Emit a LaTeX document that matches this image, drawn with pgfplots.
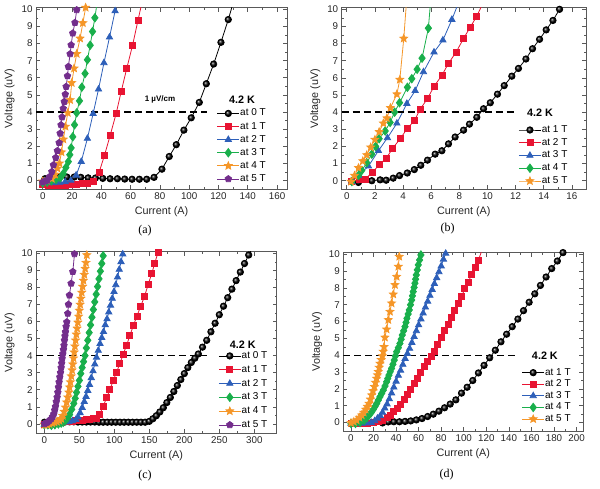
\documentclass[border=0pt]{standalone}
\usepackage{fontspec}
\setmainfont{Liberation Sans}
\newfontfamily\capfont{Liberation Serif}
\usepackage{pgfplots}
\pgfplotsset{compat=1.18}
\usetikzlibrary{plotmarks}

\definecolor{cred}{RGB}{232,20,50}
\definecolor{cblue}{RGB}{45,95,185}
\definecolor{cgreen}{RGB}{25,175,75}
\definecolor{corange}{RGB}{245,150,40}
\definecolor{cpurple}{RGB}{115,45,140}

\pgfdeclareplotmark{fstar}{%
  \pgfpathmoveto{\pgfpointpolar{90}{\pgfplotmarksize}}%
  \pgfpathlineto{\pgfpointpolar{126}{0.45\pgfplotmarksize}}%
  \pgfpathlineto{\pgfpointpolar{162}{\pgfplotmarksize}}%
  \pgfpathlineto{\pgfpointpolar{198}{0.45\pgfplotmarksize}}%
  \pgfpathlineto{\pgfpointpolar{234}{\pgfplotmarksize}}%
  \pgfpathlineto{\pgfpointpolar{270}{0.45\pgfplotmarksize}}%
  \pgfpathlineto{\pgfpointpolar{306}{\pgfplotmarksize}}%
  \pgfpathlineto{\pgfpointpolar{342}{0.45\pgfplotmarksize}}%
  \pgfpathlineto{\pgfpointpolar{18}{\pgfplotmarksize}}%
  \pgfpathlineto{\pgfpointpolar{54}{0.45\pgfplotmarksize}}%
  \pgfpathclose
  \pgfusepathqfillstroke}

\pgfplotsset{
  panel/.style={
    scale only axis, anchor=south west,
    ymin=-0.5, ymax=10.1, ytick={0,1,...,10},
    minor x tick num=1, minor y tick num=1,
    tick align=inside,
    major tick length=4pt, minor tick length=2.2pt,
    axis line style={draw=black!65, line width=0.8pt},
    tick style={black!65, line width=0.6pt},
    tick label style={font=\fontsize{9.8}{11}\selectfont, text=black!85},
    /pgf/number format/assume math mode=true,
    label style={font=\fontsize{10.8}{12}\selectfont, text=black!85},
    xlabel={Current (A)}, ylabel={Voltage (uV)},
    legend cell align=left,
    legend style={draw=none, fill=none, anchor=west, inner sep=0pt,
      font=\fontsize{10}{11}\selectfont,
      nodes={inner sep=0.5pt, text height=7pt, text depth=2pt}},
    legend image code/.code={\draw[mark repeat=2,mark phase=2,##1] plot coordinates {(0pt,0pt) (11pt,0pt) (22pt,0pt)};},
  },
  sk/.style={black, line width=0.8pt, mark=ball, mark options={ball color=black}, mark size=3.2pt},
  sr/.style={cred, line width=0.8pt, mark=square*, mark size=3pt},
  sb/.style={cblue, line width=0.8pt, mark=triangle*, mark size=3.6pt},
  sg/.style={cgreen, line width=0.8pt, mark=diamond*, mark size=4.2pt},
  so/.style={corange, line width=0.8pt, mark=fstar, mark size=4pt},
  sp/.style={cpurple, line width=0.8pt, mark=pentagon*, mark size=3.4pt},
  dl/.style={black, line width=1.5pt, dash pattern=on 7pt off 4pt, forget plot},
}

\begin{document}
\begin{tikzpicture}[x=1pt,y=1pt]
\useasboundingbox (0,0) rectangle (600,489);

% ---------------- (a) ----------------
\begin{axis}[panel, at={(36pt,300pt)}, width=251pt, height=181.4pt,
  xmin=-4.6, xmax=166.8, xtick={0,20,...,160},
  legend style={at={(0.720,0.236)}, row sep=3.1pt}]
\addplot[sk] coordinates {(1.5,0.1)(6.5,0.15)(11.5,0.2)(16.5,0.2)(21.5,0.2)(26,0.18)(31,0.15)(36,0.14)(41,0.12)(46,0.1)(51,0.1)(56,0.08)(61,0.07)(66,0.07)(71,0.07)(76,0.18)(81.4,0.66)(86.4,1.4)(91.2,2.09)(96.4,2.94)(101.4,3.66)(106.9,4.56)(111.7,5.65)(116.7,6.8)(121.7,8.07)(126.7,9.4)(131.5,10.8)};
\addlegendentry{at 0 T}
\addplot[sr] coordinates {(0,-0.25)(3.8,-0.28)(7.6,-0.3)(11.5,-0.3)(15.3,-0.28)(19.2,-0.25)(23,-0.22)(26.9,-0.2)(30.7,-0.15)(34.6,-0.08)(38.5,0.47)(42.2,1.48)(46,2.62)(50.1,3.9)(53.6,5.2)(57.4,6.56)(61.3,7.88)(65,9.34)(68.8,10.8)};
\addlegendentry{at 1 T}
\addplot[sb] coordinates {(0,-0.15)(3.8,-0.15)(7.6,-0.15)(11.5,-0.12)(15.3,-0.08)(19.2,0.0)(22.8,0.3)(26.3,1.1)(30.5,2.45)(34.4,3.9)(38.1,5.33)(41.8,6.87)(45.6,8.37)(49.4,9.9)(53,11.3)};
\addlegendentry{at 2 T}
\addplot[sg] coordinates {(0,-0.15)(3,-0.1)(6,-0.02)(9,0.05)(12,0.15)(14,0.4)(15.8,0.75)(17.5,1.1)(18.5,1.5)(19.4,1.9)(20.5,2.55)(21.7,3.25)(23.2,3.95)(25.1,4.65)(26.7,5.45)(28.9,6.25)(30.5,7.05)(32.4,7.9)(34,8.7)(35.6,9.5)(37.5,10.6)};
\addlegendentry{at 3 T}
\addplot[so] coordinates {(0,-0.05)(2.7,0.0)(6.2,0.1)(8.4,0.35)(10,0.7)(11.4,1.0)(12.8,1.65)(14.1,2.4)(15.5,3.15)(17.1,3.95)(18.7,4.7)(19.8,5.7)(21.4,6.55)(23.2,7.4)(25.5,8.3)(27.4,9.2)(29.3,10.1)(31,10.9)};
\addlegendentry{at 4 T}
\addplot[sp] coordinates {(0,-0.1)(1.5,-0.05)(3,0.0)(4.6,0.21)(6.2,0.51)(7.3,0.9)(8.9,1.33)(10,1.73)(11.2,2.2)(11.9,2.75)(12.5,3.24)(13.2,3.7)(14,4.2)(14.7,4.6)(15.4,5.03)(16,5.48)(16.9,6.1)(17.5,6.65)(18.7,7.39)(19.4,7.91)(20.5,8.6)(22,9.22)(23.2,9.96)(24.5,10.7)};
\addlegendentry{at 5 T}
\addplot[dl] coordinates {(-4.6,4)(112,4)};
\node[font=\bfseries\fontsize{10.8}{12}\selectfont] at (rel axis cs:0.821,0.491) {4.2 K};
\node[font=\bfseries\fontsize{8}{10}\selectfont] at (rel axis cs:0.494,0.494) {1 µV/cm};
\end{axis}

% ---------------- (b) ----------------
\begin{axis}[panel, at={(341.7pt,299.7pt)}, width=244.3pt, height=181.7pt,
  xmin=-0.36, xmax=17.0, xtick={0,2,...,16},
  legend style={at={(0.723,0.186)}, row sep=2.75pt}]
\addplot[sk] coordinates {(0.83,-0.1)(1.78,0.0)(2.37,0.05)(2.8,0.03)(3.3,0.15)(3.75,0.3)(4.3,0.45)(4.8,0.65)(5.26,0.9)(5.74,1.2)(6.28,1.55)(6.76,1.75)(7.23,2.15)(7.7,2.55)(8.3,2.95)(8.72,3.3)(9.24,3.7)(9.72,4.2)(10.2,4.55)(10.71,5.05)(11.19,5.55)(11.73,6.1)(12.2,6.55)(12.73,7.1)(13.2,7.7)(13.7,8.25)(14.17,8.8)(14.65,9.35)(15.12,10.0)(15.6,10.6)};
\addlegendentry{at 1 T}
\addplot[sr] coordinates {(0.36,-0.05)(0.9,0.05)(1.3,0.1)(1.85,0.5)(2.32,0.95)(2.8,1.3)(3.27,1.9)(3.8,2.45)(4.3,3.05)(4.8,3.5)(5.2,4.15)(5.74,4.8)(6.2,5.5)(6.76,6.15)(7.23,6.85)(7.77,7.5)(8.3,8.3)(8.77,8.95)(9.24,9.6)(9.7,10.4)};
\addlegendentry{at 2 T}
\addplot[sb] coordinates {(0.36,-0.05)(0.83,0.3)(1.54,0.85)(2.25,1.75)(2.89,2.5)(3.56,3.35)(4.27,4.5)(4.86,5.25)(5.45,6.35)(6.2,7.5)(6.83,8.2)(7.47,9.4)(7.95,10.4)};
\addlegendentry{at 3 T}
\addplot[sg] coordinates {(0.36,-0.05)(0.83,0.3)(1.07,0.6)(1.42,1.05)(1.78,1.55)(2.05,2.0)(2.3,2.45)(2.73,2.9)(3.08,3.4)(3.4,4.0)(3.75,4.55)(4.31,5.45)(4.62,5.95)(5.0,6.5)(5.35,7.15)(5.8,8.9)(5.95,10.4)};
\addlegendentry{at 4 T}
\addplot[so] coordinates {(0.3,-0.05)(0.55,0.3)(0.83,0.75)(1.14,1.15)(1.42,1.5)(1.7,1.95)(2.0,2.4)(2.3,2.85)(2.6,3.35)(2.85,3.65)(3.1,4.25)(3.56,5.05)(3.77,5.9)(4.05,8.3)(4.25,10.5)};
\addlegendentry{at 5 T}
\addplot[dl] coordinates {(-0.36,4)(12,4)};
\node[font=\bfseries\fontsize{10.8}{12}\selectfont] at (rel axis cs:0.812,0.422) {4.2 K};
\end{axis}

% ---------------- (c) ----------------
\begin{axis}[panel, at={(36pt,55.7pt)}, width=240.7pt, height=181.7pt,
  ymin=-0.55, xmin=-12, xmax=332, xtick={0,50,...,300},
  legend style={at={(0.757,0.236)}, row sep=3.8pt}]
\addplot[sk] coordinates {(0,0.1)(6,0.12)(12,0.13)(18,0.12)(24,0.12)(30,0.12)(36,0.12)(42,0.12)(48,0.11)(54,0.11)(60,0.11)(66,0.11)(72,0.11)(78,0.1)(84,0.1)(90,0.1)(96,0.1)(102,0.1)(108,0.1)(114,0.1)(120,0.1)(126,0.1)(132,0.1)(138,0.1)(144,0.1)(150,0.15)(155,0.3)(160,0.48)(165,0.7)(170,0.95)(175,1.25)(180,1.55)(185,1.9)(190,2.25)(195,2.6)(200,2.95)(205,3.3)(210,3.6)(215,3.85)(220,4.1)(226,4.5)(232,4.9)(238,5.4)(244,5.9)(250,6.4)(256,6.9)(262,7.4)(268,7.9)(274,8.4)(280,8.9)(286,9.4)(292,9.9)(298,10.4)};
\addlegendentry{at 0 T}
\addplot[sr] coordinates {(0,-0.05)(5,0.0)(10,0.03)(15,0.05)(20,0.08)(25,0.1)(30,0.12)(35,0.14)(40,0.16)(45,0.18)(50,0.2)(55,0.22)(60,0.25)(65,0.27)(70,0.3)(75,0.33)(79,0.55)(84,1.04)(89,1.53)(93.5,2.0)(98.3,2.53)(103,3.02)(107.8,3.53)(112.6,4.08)(117.4,4.6)(122,5.16)(127,5.75)(132.3,6.33)(137.7,6.9)(143.3,7.5)(148.5,8.2)(153.3,8.8)(157.6,9.4)(162.3,10.05)(166,10.6)};
\addlegendentry{at 1 T}
\addplot[sb] coordinates {(0,-0.05)(5,-0.05)(10,0)(15,0.02)(20,0.05)(25,0.08)(30,0.1)(35,0.13)(40,0.18)(45,0.25)(48,0.4)(51,0.65)(54,0.95)(57,1.3)(59.5,1.6)(62,1.95)(64.5,2.3)(67,2.7)(69.5,3.1)(72,3.5)(74.5,3.9)(77,4.3)(79.5,4.7)(82,5.05)(84.5,5.4)(87,5.8)(89.5,6.15)(92,6.55)(94.5,6.95)(97,7.35)(99.5,7.75)(102,8.15)(104.5,8.6)(107,9.05)(109.5,9.5)(112,9.95)(114,10.45)};
\addlegendentry{at 2 T}
\addplot[sg] coordinates {(0,-0.05)(5,-0.05)(10,-0.08)(15,-0.05)(20,0.0)(24,0.05)(27,0.1)(30,0.2)(33,0.35)(36,0.55)(39,0.85)(42,1.2)(44,1.5)(46,1.85)(48,2.2)(50,2.55)(52,2.95)(54,3.3)(56,3.65)(58,4.0)(60,4.45)(62,4.9)(64,5.35)(66,5.8)(68,6.25)(70,6.7)(72,7.15)(74,7.6)(76,8.05)(78,8.5)(80,8.95)(82,9.4)(84,9.85)(86,10.4)};
\addlegendentry{at 3 T}
\addplot[so] coordinates {(0,-0.05)(4,-0.05)(7.2,0.0)(11,0.05)(14.4,0.09)(18,0.13)(21.5,0.19)(24,0.3)(26.3,0.48)(28.3,0.72)(30.1,0.97)(31.8,1.27)(33.4,1.56)(34.9,1.85)(36,2.15)(37.2,2.45)(38.4,2.8)(39.6,3.15)(40.6,3.5)(41.6,3.85)(42.6,4.2)(43.6,4.55)(44.6,4.9)(45.6,5.25)(46.7,5.6)(47.8,5.95)(48.9,6.3)(50,6.65)(51.1,7.0)(52.2,7.35)(53.4,7.7)(54.6,8.05)(55.8,8.4)(57,8.75)(58.2,9.1)(59.4,9.45)(60.6,9.9)(61.8,10.45)};
\addlegendentry{at 4 T}
\addplot[sp] coordinates {(0,0.0)(2.5,0.05)(4.8,0.1)(7.2,0.2)(9.6,0.29)(11.6,0.42)(13.4,0.58)(14.7,0.8)(15.8,1.01)(17,1.3)(18.2,1.56)(19.2,1.85)(20.1,2.15)(21,2.45)(22,2.74)(23,3.0)(23.9,3.29)(24.6,3.55)(25.3,3.82)(26.3,4.1)(27.2,4.35)(28,4.6)(28.7,4.9)(29.4,5.15)(30.1,5.39)(31,5.7)(32,5.97)(33.4,6.47)(34.4,7.0)(35.8,7.54)(38.2,8.23)(40.6,8.92)(43,9.96)(44.5,10.6)};
\addlegendentry{at 5 T}
\addplot[dl] coordinates {(-12,4)(232,4)};
\node[font=\bfseries\fontsize{10.8}{12}\selectfont] at (rel axis cs:0.859,0.49) {4.2 K};
\end{axis}

% ---------------- (d) ----------------
\begin{axis}[panel, at={(343.3pt,58pt)}, width=240pt, height=178.4pt,
  xmin=-6.8, xmax=206, xtick={0,20,...,200},
  legend style={at={(0.743,0.197)}, row sep=1.6pt}]
\addplot[sk] coordinates {(28,-0.02)(33,0.04)(38,0.05)(43,0.05)(48,0.07)(53,0.1)(58,0.16)(63,0.24)(68,0.36)(73,0.5)(78,0.68)(83,0.88)(88,1.1)(93,1.35)(98,1.75)(103,2.1)(108,2.5)(113,2.95)(118,3.4)(123,3.85)(128,4.3)(133,4.8)(138,5.25)(143,5.7)(148,6.15)(153,6.65)(158,7.15)(163,7.65)(168,8.15)(173,8.65)(178,9.15)(183,9.6)(188,10.1)(193,10.6)};
\addlegendentry{at 1 T}
\addplot[sr] coordinates {(0,-0.05)(5,-0.05)(10,-0.05)(15,-0.05)(20,0.0)(24,0.05)(28,0.15)(32,0.3)(35,0.45)(38,0.65)(41,0.85)(44,1.1)(47,1.35)(50,1.65)(53,1.95)(56,2.3)(59,2.65)(62,3.0)(65,3.35)(68,3.65)(71,3.95)(74,4.25)(77,4.65)(80,5.05)(83,5.45)(86,5.85)(89,6.25)(92,6.65)(95,7.1)(98,7.5)(101,7.95)(104,8.35)(107,8.8)(110,9.25)(113,9.65)(117.5,10.5)};
\addlegendentry{at 2 T}
\addplot[sb] coordinates {(0,-0.05)(5,-0.05)(10,-0.05)(14,-0.03)(18,0.0)(21,0.1)(23.5,0.25)(26,0.4)(28,0.6)(30,0.85)(32,1.1)(34,1.4)(36,1.75)(38,2.1)(40,2.45)(42,2.8)(44,3.1)(46,3.45)(48,3.8)(50,4.1)(52,4.4)(54,4.75)(56,5.1)(58,5.45)(60,5.8)(62,6.15)(64,6.5)(66,6.85)(68,7.2)(70,7.55)(72,7.9)(74,8.25)(76,8.6)(78,8.95)(80,9.3)(82,9.7)(84,10.05)(86,10.5)};
\addlegendentry{at 3 T}
\addplot[sg] coordinates {(0,-0.05)(4,-0.05)(8,0.0)(11.8,0.14)(14,0.28)(16,0.44)(18,0.6)(19.8,0.78)(21.3,0.95)(22.8,1.13)(24.2,1.33)(25.7,1.53)(27.2,1.73)(28.7,1.93)(30.2,2.17)(31.6,2.42)(32.6,2.62)(33.7,2.82)(34.8,3.02)(36,3.22)(37.2,3.46)(38.4,3.71)(39.4,3.96)(40.5,4.21)(42,4.45)(43.4,4.7)(44.5,4.95)(45.5,5.2)(46.7,5.45)(47.9,5.7)(48.8,5.95)(49.6,6.19)(50.7,6.45)(51.7,6.69)(52.8,7.0)(53.8,7.28)(54.5,7.53)(55.2,7.78)(56,8.03)(56.7,8.28)(57.3,8.52)(57.9,8.77)(58.8,9.07)(59.7,9.37)(60.8,9.66)(62,9.96)(63.3,10.5)};
\addlegendentry{at 4 T}
\addplot[so] coordinates {(0,-0.02)(2.5,0.05)(5,0.14)(7.5,0.3)(9.5,0.44)(11.3,0.6)(13,0.78)(14.5,0.95)(16,1.13)(17.2,1.38)(18.3,1.63)(19.5,1.88)(20.7,2.13)(21.7,2.38)(22.7,2.62)(23.5,2.82)(24.2,3.02)(25,3.27)(25.7,3.51)(26.8,3.73)(27.8,3.95)(28.6,4.22)(29.3,4.5)(30.1,5.06)(31.6,5.54)(33.1,6.1)(34.6,6.59)(36,7.09)(37.5,7.62)(39,8.18)(40.5,8.67)(42,9.27)(42.8,9.86)(43.8,10.5)};
\addlegendentry{at 5 T}
\addplot[dl] coordinates {(-6.8,4)(148,4)};
\node[font=\bfseries\fontsize{10.8}{12}\selectfont] at (rel axis cs:0.840,0.422) {4.2 K};
\end{axis}

\node[font=\capfont\fontsize{12}{14}\selectfont] at (145,258) {(a)};
\node[font=\capfont\fontsize{12}{14}\selectfont] at (447.7,260) {(b)};
\node[font=\capfont\fontsize{12}{14}\selectfont] at (145,13) {(c)};
\node[font=\capfont\fontsize{12}{14}\selectfont] at (446.7,14) {(d)};
\end{tikzpicture}
\end{document}
